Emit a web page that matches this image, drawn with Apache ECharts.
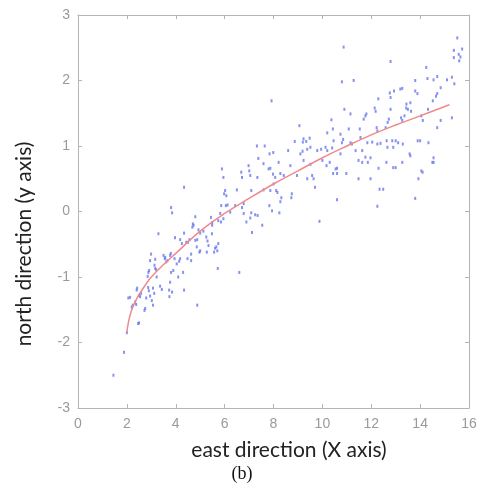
<!DOCTYPE html>
<html>
<head>
<meta charset="utf-8">
<script src="https://cdn.jsdelivr.net/npm/echarts@6/dist/echarts.min.js"></script>
<style>
  html, body { margin: 0; padding: 0; background: #fff; }
  #chart { width: 484px; height: 489px; }
</style>
</head>
<body>
<div id="chart"></div>
<script>
// tick marks of both axes
const xTicks = [0, 2, 4, 6, 8, 10, 12, 14, 16]
const yTicks = [-3, -2, -1, 0, 1, 2, 3]

const measured = [
  [1.45, -2.5], [1.88, -2.15], [2.0, -1.85], [2.06, -1.32], [2.13, -1.31], [2.2, -1.46], [2.24, -1.43],
  [2.34, -1.38], [2.38, -1.42], [2.4, -1.2], [2.42, -1.17], [2.46, -1.71], [2.5, -1.7], [2.5, -1.28],
  [2.54, -1.3], [2.58, -1.25], [2.72, -1.51], [2.75, -1.48], [2.79, -1.32], [2.85, -0.99], [2.87, -1.16],
  [2.88, -0.93], [2.9, -1.21], [2.91, -0.9], [2.95, -0.75], [2.95, -1.29], [2.99, -0.65],
  [3.02, -1.36], [3.07, -1.17], [3.07, -1.43], [3.12, -1.25], [3.13, -0.82], [3.16, -0.73], [3.16, -0.87],
  [3.2, -0.89], [3.22, -1.0], [3.29, -0.34], [3.36, -1.14], [3.43, -1.19], [3.5, -0.67], [3.55, -0.72],
  [3.57, -0.7], [3.61, -0.77], [3.66, -0.75], [3.73, -1.2], [3.74, -1.3], [3.77, -0.67], [3.77, -1.08],
  [3.8, -0.64], [3.81, 0.06], [3.81, -0.93], [3.85, -0.02], [3.85, -1.23], [3.9, -0.9], [3.95, -0.72],
  [3.97, -0.4],
  [4.04, -0.8], [4.1, -1.0], [4.14, -0.76], [4.18, -0.43], [4.18, -0.72], [4.25, -0.49], [4.3, -0.93],
  [4.34, -1.2], [4.34, 0.37], [4.34, -0.33], [4.43, -0.47], [4.48, -0.72], [4.5, -0.47], [4.56, -0.43],
  [4.63, -0.65], [4.63, -0.75], [4.68, -0.24], [4.7, -0.19], [4.73, -0.21], [4.8, -0.08], [4.8, -0.44],
  [4.86, -0.54], [4.88, -1.43], [4.88, -0.43], [4.93, -0.28], [4.97, -0.62], [5.0, -0.33], [5.0, -0.6],
  [5.13, -0.3], [5.25, -0.39], [5.27, -0.62], [5.3, -0.45], [5.34, -0.52], [5.44, -0.09], [5.48, -0.34],
  [5.49, -0.17], [5.49, -0.21], [5.57, -0.62], [5.61, -0.56], [5.66, -0.54], [5.7, -0.6], [5.72, -0.87],
  [5.74, -0.14], [5.74, -0.49], [5.82, -0.03], [5.85, -0.16], [5.86, 0.09], [5.89, 0.65], [5.95, -0.11],
  [5.95, 0.52], [5.98, 0.27],
  [6.02, 0.32], [6.05, 0.09], [6.07, 0.24], [6.12, 0.1], [6.23, -0.01], [6.43, 0.09], [6.5, 0.33],
  [6.6, -0.93], [6.68, 0.6], [6.71, 0.52], [6.71, 0.06], [6.78, -0.03], [6.78, 0.12], [6.89, -0.16],
  [6.98, 0.7], [7.01, 0.62],
  [7.05, -0.1], [7.05, 0.55], [7.09, 0.32], [7.09, -0.02], [7.12, -0.32], [7.25, -0.05], [7.32, 1.0],
  [7.34, 0.52], [7.35, -0.06], [7.38, 0.81], [7.54, -0.21], [7.59, 0.73], [7.59, 0.33], [7.64, 1.0],
  [7.8, 0.65], [7.83, 0.09], [7.84, 0.88], [7.87, 0.66], [7.87, 0.32], [7.92, 1.69], [7.94, 0.01],
  [7.98, 0.57], [7.99, 0.9], [8.0, 0.42],
  [8.07, 0.52], [8.11, 0.32], [8.16, 0.29], [8.21, 0.75], [8.24, -0.02], [8.28, 0.58], [8.28, 0.15],
  [8.32, 0.21], [8.42, 0.55], [8.6, 0.93], [8.69, 0.7], [8.73, 0.21], [8.75, 0.27], [8.87, 1.07],
  [8.96, 0.55],
  [9.06, 1.31], [9.1, 0.88], [9.19, 0.92], [9.2, 1.06], [9.23, 1.11], [9.23, 0.78], [9.34, 1.07],
  [9.38, 0.95], [9.38, 0.5], [9.48, 1.12], [9.51, 0.98], [9.51, 0.72], [9.58, 0.55], [9.64, 0.5],
  [9.7, 0.37], [9.79, 0.93], [9.88, -0.15], [9.95, 0.95], [10.0, 0.78],
  [10.13, 0.98], [10.17, 0.7], [10.2, 1.2], [10.2, 0.93], [10.3, 0.75], [10.37, 1.4], [10.4, 0.97],
  [10.43, 1.26], [10.44, 0.58], [10.46, 1.08], [10.54, 0.65], [10.6, 0.58], [10.6, 0.66], [10.6, 0.18],
  [10.74, 1.18], [10.74, 0.88], [10.8, 1.05], [10.8, 1.98], [10.85, 1.1], [10.87, 2.51], [10.9, 1.56],
  [10.98, 0.58],
  [11.08, 1.26], [11.15, 1.49], [11.15, 1.05], [11.21, 1.03], [11.28, 2.0], [11.36, 0.93], [11.48, 0.78],
  [11.48, 0.5], [11.53, 1.26], [11.56, 1.13], [11.63, 0.75], [11.63, 0.93], [11.69, 1.41], [11.76, 1.46],
  [11.76, 0.83], [11.8, 1.49], [11.84, 1.05], [11.86, 0.75], [11.97, 0.82], [11.97, 0.5],
  [12.04, 1.06], [12.14, 1.58], [12.18, 1.53], [12.22, 1.28], [12.25, 1.03], [12.25, 1.23], [12.25, 0.08],
  [12.29, 1.72], [12.3, 0.66], [12.34, 0.34], [12.38, 1.04], [12.49, 0.34], [12.59, 1.28], [12.62, 0.75],
  [12.63, 1.08], [12.66, 0.98], [12.67, 1.36], [12.72, 1.41], [12.76, 1.81], [12.79, 1.56], [12.79, 1.74],
  [12.79, 2.29], [12.86, 1.08], [12.9, 0.98], [12.9, 0.67], [12.93, 1.84], [13.0, 0.67], [13.0, 1.08],
  [13.1, 1.05], [13.19, 1.87], [13.22, 1.43], [13.27, 1.88], [13.27, 1.39], [13.27, 0.75], [13.29, 1.03],
  [13.36, 1.46], [13.43, 1.58], [13.44, 1.64], [13.5, 1.56], [13.57, 0.88], [13.6, 1.66], [13.6, 0.85],
  [13.63, 1.53], [13.8, 1.84], [13.8, 2.0], [13.8, 0.2], [13.89, 1.8], [13.9, 1.08], [13.93, 0.5],
  [14.0, 1.08],
  [14.05, 0.62], [14.05, 1.46], [14.1, 0.6], [14.11, 1.39], [14.25, 2.2], [14.3, 2.03], [14.32, 1.56],
  [14.34, 1.05], [14.5, 0.75], [14.52, 1.69], [14.55, 2.01], [14.55, 0.82], [14.55, 0.75], [14.65, 1.76],
  [14.7, 2.06], [14.7, 1.8], [14.7, 1.28], [14.84, 1.89], [14.84, 1.39],
  [15.1, 2.01], [15.3, 2.05], [15.3, 1.43], [15.38, 2.46], [15.38, 2.35], [15.4, 1.95], [15.52, 2.65],
  [15.58, 2.4], [15.6, 2.3], [15.65, 2.36], [15.72, 2.48]
]

// fitted curve, sampled along the red line
const fitX = [2.0, 2.05, 2.12, 2.2, 2.3, 2.45, 2.6, 2.8, 3.0, 3.5, 4.0, 5.0, 6.0, 7.0, 8.0, 9.0, 10.0, 11.0, 12.0, 13.0, 14.0, 15.2]
const fitY = [-1.84, -1.72, -1.6, -1.5, -1.41, -1.3, -1.21, -1.1, -1.0, -0.81, -0.64, -0.3, -0.03, 0.2, 0.42, 0.62, 0.82, 1.0, 1.17, 1.32, 1.46, 1.63]

const fitLine = fitX.map((x, i) => [x, fitY[i]])

const boxColor = '#b4b4b4'
const tickFont = {
  color: '#9a9a9a',
  fontFamily: 'Liberation Sans Narrow, Liberation Sans, sans-serif',
  fontSize: 14,
}

function xAxisCfg(pos, showLabel) {
  return {
    type: 'value',
    position: pos,
    min: xTicks[0],
    max: xTicks[xTicks.length - 1],
    interval: 2,
    axisLine: { show: true, onZero: false, lineStyle: { color: boxColor, width: 1 } },
    axisTick: { show: true, inside: true, length: 4, lineStyle: { color: boxColor } },
    axisLabel: Object.assign({ show: showLabel, margin: 9 }, tickFont),
    splitLine: { show: false },
  }
}

function yAxisCfg(pos, showLabel) {
  return {
    type: 'value',
    position: pos,
    min: yTicks[0],
    max: yTicks[yTicks.length - 1],
    interval: 1,
    axisLine: { show: true, onZero: false, lineStyle: { color: boxColor, width: 1 } },
    axisTick: { show: true, inside: true, length: 4, lineStyle: { color: boxColor } },
    axisLabel: Object.assign({ show: showLabel, margin: 8 }, tickFont),
    splitLine: { show: false },
  }
}

const chart = echarts.init(document.getElementById('chart'), null, { renderer: 'canvas' })
chart.setOption({
  backgroundColor: '#fff',
  animation: false,
  grid: { left: 78, right: 15, top: 15, bottom: 81, outerBoundsMode: 'none' },
  xAxis: [xAxisCfg('bottom', true), xAxisCfg('top', false)],
  yAxis: [yAxisCfg('left', true), yAxisCfg('right', false)],
  graphic: [
    {
      type: 'text',
      x: 24,
      y: 244,
      rotation: Math.PI / 2,
      style: {
        text: 'north direction (y axis)',
        fill: '#222',
        font: '21px Lato, "Open Sans", sans-serif',
        textAlign: 'center',
        textVerticalAlign: 'middle',
      },
    },
    {
      type: 'text',
      x: 289,
      y: 450,
      style: {
        text: 'east direction (X axis)',
        fill: '#222',
        font: '21px Lato, "Open Sans", sans-serif',
        textAlign: 'center',
        textVerticalAlign: 'middle',
      },
    },
    {
      type: 'text',
      x: 242,
      y: 474,
      style: {
        text: '(b)',
        fill: '#111',
        font: '18px "Liberation Serif", serif',
        textAlign: 'center',
        textVerticalAlign: 'middle',
      },
    },
  ],
  series: [
    {
      type: 'scatter',
      data: measured,
      symbol: 'rect',
      symbolSize: [2, 3],
      itemStyle: { color: '#6677ee', opacity: 0.8 },
      z: 2,
    },
    {
      type: 'line',
      data: fitLine,
      smooth: 0.4,
      showSymbol: false,
      lineStyle: { color: '#f08a8a', width: 1.5 },
      z: 3,
    },
  ],
})
</script>
</body>
</html>
